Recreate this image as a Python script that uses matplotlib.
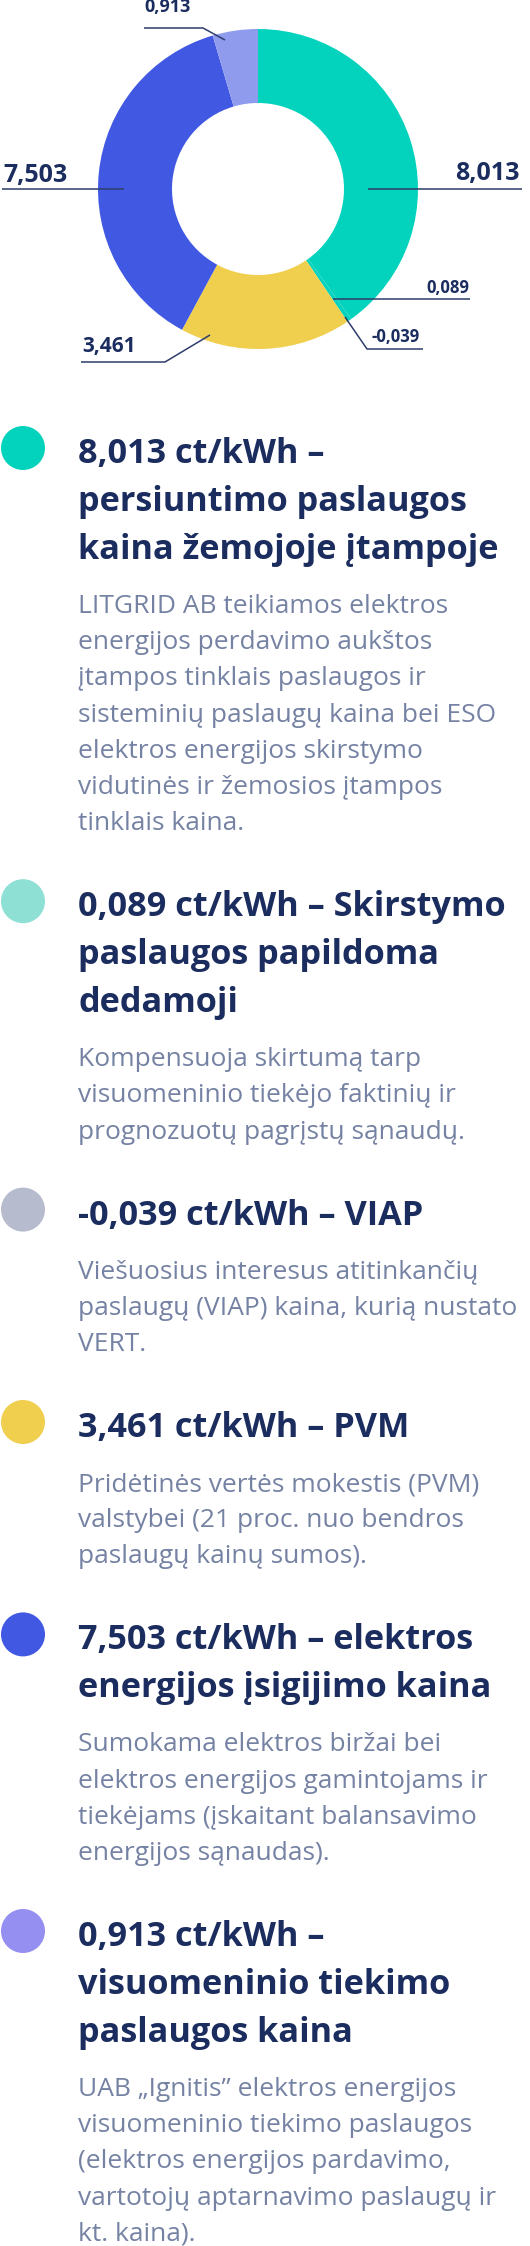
import numpy as np
import matplotlib
matplotlib.use("Agg")
import matplotlib.pyplot as plt
from matplotlib.patches import Circle

W, H = 530, 2246

values = [8.013, 0.089, -0.039, 3.461, 7.503, 0.913]
donut_colors = ["#03D3BC", "#03D3BC", "#B6BCCE", "#F0CF4F", "#4158E2", "#8F9BEC"]
dot_colors = ["#03D3BC", "#8EDFD4", "#B6BCCE", "#F0CF4F", "#4158E2", "#958FF2"]
names = [
    "\npersiuntimo paslaugos\nkaina žemojoje įtampoje",
    " Skirstymo\npaslaugos papildoma\ndedamoji",
    " VIAP",
    " PVM",
    " elektros\nenergijos įsigijimo kaina",
    "\nvisuomeninio tiekimo\npaslaugos kaina",
]
notes = [
    "LITGRID AB teikiamos elektros\nenergijos perdavimo aukštos\nįtampos tinklais paslaugos ir\n"
    "sisteminių paslaugų kaina bei ESO\nelektros energijos skirstymo\n"
    "vidutinės ir žemosios įtampos\ntinklais kaina.",
    "Kompensuoja skirtumą tarp\nvisuomeninio tiekėjo faktinių ir\nprognozuotų pagrįstų sąnaudų.",
    "Viešuosius interesus atitinkančių\npaslaugų (VIAP) kaina, kurią nustato\nVERT.",
    "Pridėtinės vertės mokestis (PVM)\nvalstybei (21 proc. nuo bendros\npaslaugų kainų sumos).",
    "Sumokama elektros biržai bei\nelektros energijos gamintojams ir\ntiekėjams (įskaitant balansavimo\n"
    "energijos sąnaudas).",
    "UAB „Ignitis” elektros energijos\nvisuomeninio tiekimo paslaugos\n(elektros energijos pardavimo,\n"
    "vartotojų aptarnavimo paslaugų ir\nkt. kaina).",
]

NAVY = "#1B2D5E"
GREY = "#7582A3"
LINE = "#2E3D6B"


def fmt(v):
    return f"{v:.3f}".replace(".", ",")


def py(y):
    # pixel row (from top) -> data y
    return H - y


fig = plt.figure(figsize=(W / 100, H / 100), dpi=100)
ax = fig.add_axes([0, 0, 1, 1])
ax.set_xlim(0, W)
ax.set_ylim(0, H)
ax.set_aspect("equal")
ax.axis("off")

# donut (negative slice cannot be drawn as a wedge)
ax.pie(np.clip(values, 0, None), colors=donut_colors, startangle=90, counterclock=False,
       center=(258, py(189)), radius=160, wedgeprops=dict(width=74, linewidth=0))
ax.set_xlim(0, W)
ax.set_ylim(0, H)

# label text (x, baseline y, align, size) and leader path, index into values
labels = [
    (0, 520, 180, "right", 18, [(368, 189), (522, 189)]),
    (1, 469, 293, "right", 12, [(333, 299), (470, 299)]),
    (2, 371, 342, "left", 12, [(345, 317), (367, 349), (423, 349)]),
    (3, 82, 352, "left", 15, [(210, 335), (165, 362), (81, 362)]),
    (4, 3, 182, "left", 18, [(2, 189), (124, 189)]),
    (5, 144, 12, "left", 13, [(225, 40), (203, 28), (144, 28)]),
]
for i, x, y, ha, size, path in labels:
    ax.text(x, py(y), fmt(values[i]), ha=ha, va="baseline", fontsize=size,
            fontweight="bold", family="Open Sans", color=NAVY)
    xs, ys = zip(*path)
    ax.plot(xs, [py(v) for v in ys], color=LINE, lw=1.1, solid_capstyle="butt")

# legend blocks
y = 448
for i, v in enumerate(values):
    ax.add_patch(Circle((23, py(y)), 22, color=dot_colors[i], lw=0))
    tl = (f"{fmt(v)} ct/kWh –" + names[i]).split("\n")
    yb = y + 15
    for k, line in enumerate(tl):
        ax.text(78, py(yb + 48 * k), line.strip(), ha="left", va="baseline", fontsize=24.7,
                fontweight="bold", family="Open Sans", color=NAVY)
    yb = yb + 48 * (len(tl) - 1) + 54
    nl = notes[i].split("\n")
    for k, line in enumerate(nl):
        ax.text(78, py(yb + 36.2 * k), line, ha="left", va="baseline", fontsize=19,
                family="Open Sans", color=GREY)
    y = yb + 36.2 * (len(nl) - 1) + 71

fig.savefig("out.png", dpi=100)
